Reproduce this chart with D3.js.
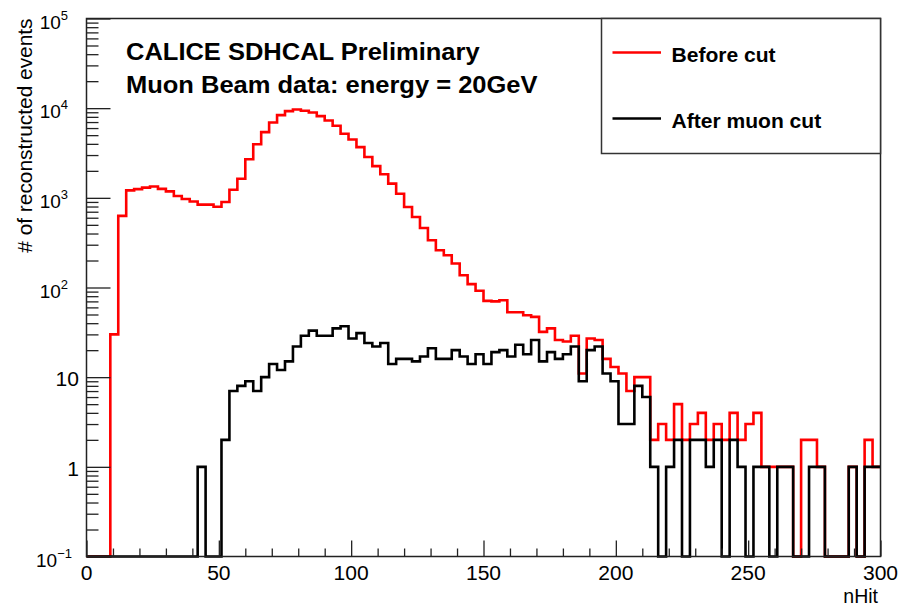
<!DOCTYPE html>
<html>
<head>
<meta charset="utf-8">
<script src="https://cdn.jsdelivr.net/npm/d3@7"></script>
<style>
  body { margin: 0; background: #fff; }
  svg { display: block; font-family: "Liberation Sans", Arial, Helvetica, sans-serif; }
</style>
</head>
<body>
<svg></svg>
<script>
(function () {
  var width = 915;
  var height = 606;

  // histogram layout: 100 bins of width 3, nHit from 0 to 300
  var binWidth = 3;
  var xRange = [0, 300];
  var yRange = [0.1, 1e5];
  var xTicksMajor = [0, 50, 100, 150, 200, 250, 300];
  var xTicksMinor = [10, 20, 30, 40, 60, 70, 80, 90, 110, 120, 130, 140, 160, 170, 180, 190,
                     210, 220, 230, 240, 260, 270, 280, 290];
  var yDecades = [-1, 0, 1, 2, 3, 4, 5];

  // bin contents
  var beforeCut = [
    0, 0, 0, 30, 630, 1210, 1250, 1300, 1340, 1260,
    1180, 1050, 970, 910, 840, 840, 795, 900, 1230, 1630,
    2690, 3960, 5400, 6930, 8360, 9260, 9660, 9350, 8960, 8150,
    7290, 6370, 5190, 4480, 3680, 2850, 2260, 1830, 1440, 1110,
    790, 611, 461, 336, 260, 229, 185, 137, 109, 92,
    71, 70, 72, 53, 53, 49, 47, 32, 35, 26,
    25, 29, 11, 27, 26, 16, 13, 11, 7, 10,
    10, 2, 3, 2, 5, 2, 3, 4, 2, 3,
    2, 4, 2, 3, 4, 1, 1, 1, 1, 0,
    2, 2, 1, 0, 0, 0, 1, 0, 2, 1
  ];
  var afterCut = [
    0, 0, 0, 0, 0, 0, 0, 0, 0, 0,
    0, 0, 0, 0, 1, 0, 0, 2, 7, 8,
    9, 7, 10, 14, 12, 15, 22, 29, 33, 29,
    29, 35, 37, 27, 31, 24, 22, 24, 14, 16,
    16, 15, 17, 21, 16, 16, 20, 17, 14, 18,
    14, 19, 20, 17, 23, 18, 26, 15, 19, 16,
    18, 22, 9, 20, 22, 11, 9, 3, 3, 8,
    6, 1, 0, 1, 2, 0, 2, 2, 1, 2,
    0, 2, 1, 0, 1, 1, 0, 1, 1, 0,
    0, 1, 1, 0, 0, 0, 1, 0, 1, 1
  ];

  var seriesNames = ["Before cut", "After muon cut"];
  var seriesColors = ["#ff0000", "#000000"];
  var titleLines = ["CALICE SDHCAL Preliminary", "Muon Beam data: energy = 20GeV"];

  var svg = d3.select('svg')
        .attr("width", width)
        .attr("height", height);
  var margin = {top: 18.5, left: 86.5};
  var plot_width = 794;
  var plot_height = 538;
  var g = svg.append('g').attr('transform', 'translate(' + margin.left + ',' + margin.top + ')');

  var x = d3.scaleLinear().domain(xRange).range([0, plot_width]);
  var y = d3.scaleLog().domain(yRange).range([plot_height, 0]);

  // text helper, ROOT fonts look a bit wider than Liberation at the same height
  function label(parent, px, py, str, size, weight, sx, anchor) {
    return parent.append("text")
      .attr("transform", "translate(" + px + "," + py + ") scale(" + sx + ",1)")
      .attr("font-size", size)
      .attr("font-weight", weight)
      .attr("text-anchor", anchor)
      .attr("fill", "#000")
      .text(str);
  }

  // step line for a histogram, empty bins go to the bottom of the frame
  var line = d3.line()
        .x(function(d) { return x(d[0]); })
        .y(function(d) { return y(d[1] > 0 ? Math.max(d[1], yRange[0]) : yRange[0]); })
        .curve(d3.curveStepAfter);

  function steps(values) {
    var pts = values.map(function(v, i) { return [i * binWidth, v]; });
    pts.push([xRange[1], values[values.length - 1]]);
    return pts;
  }

  [beforeCut, afterCut].forEach(function(values, k) {
    g.append("path")
      .attr("d", line(steps(values)))
      .attr("fill", "none")
      .attr("stroke", seriesColors[k])
      .attr("stroke-width", 2.6)
      .attr("stroke-linejoin", "miter");
  });

  // y axis: decades and minor ticks inside the frame
  var minor = [];
  yDecades.slice(0, -1).forEach(function(e) {
    for (var m = 2; m <= 9; m++) minor.push(m * Math.pow(10, e));
  });
  var axisStyle = function(sel) {
    sel.selectAll("line").attr("stroke", "#222").attr("stroke-width", 1.3);
    sel.select(".domain").remove();
  };
  g.append("g")
    .call(d3.axisLeft(y).tickValues(minor).tickSizeInner(-12).tickSizeOuter(0).tickFormat(""))
    .call(axisStyle);
  g.append("g")
    .call(d3.axisLeft(y).tickValues(yDecades.map(function(e) { return Math.pow(10, e); }))
          .tickSizeInner(-24).tickSizeOuter(0).tickFormat(""))
    .call(axisStyle);

  // x axis
  g.append("g")
    .attr("transform", "translate(0," + plot_height + ")")
    .call(d3.axisBottom(x).tickValues(xTicksMinor).tickSizeInner(-8).tickSizeOuter(0).tickFormat(""))
    .call(axisStyle);
  g.append("g")
    .attr("transform", "translate(0," + plot_height + ")")
    .call(d3.axisBottom(x).tickValues(xTicksMajor).tickSizeInner(-16).tickSizeOuter(0).tickFormat(""))
    .call(axisStyle);

  // frame
  g.append("rect")
    .attr("width", plot_width)
    .attr("height", plot_height)
    .attr("fill", "none")
    .attr("stroke", "#222")
    .attr("stroke-width", 1.5);

  // tick labels
  xTicksMajor.forEach(function(v) {
    label(svg, margin.left + x(v), 579.5, String(v), 19.5, "normal", 1.08, "middle");
  });
  yDecades.forEach(function(e) {
    var ty = margin.top + y(Math.pow(10, e));
    if (e === 0 || e === 1) {
      label(svg, 79, ty + 9, e === 0 ? "1" : "10", 19.5, "normal", 1.08, "end");
    } else {
      var t = svg.append("text")
        .attr("x", e < 0 ? 72 : 68)
        .attr("y", ty + 10)
        .attr("font-size", 19)
        .attr("text-anchor", "end")
        .attr("fill", "#000");
      t.append("tspan").text("10");
      t.append("tspan").attr("dy", -9).attr("font-size", 13)
        .text(e < 0 ? "\u2212" + (-e) : String(e));
    }
  });

  // axis titles
  label(svg, 878, 603, "nHit", 19.5, "normal", 1.0, "end");
  svg.append("text")
    .attr("transform", "translate(32," + margin.top + ") rotate(-90) scale(1.07,1)")
    .attr("font-size", 19.5)
    .attr("text-anchor", "end")
    .attr("fill", "#000")
    .text("# of reconstructed events");

  // headline
  label(svg, 126, 60, titleLines[0], 24, "bold", 1.0625, "start");
  label(svg, 126, 93, titleLines[1], 24, "bold", 1.0625, "start");

  // legend
  var leg = svg.append("g");
  leg.append("rect")
    .attr("x", 601.5).attr("y", 18.5)
    .attr("width", 279).attr("height", 135)
    .attr("fill", "#fff")
    .attr("stroke", "#333")
    .attr("stroke-width", 1.5);
  var legY = [52.5, 118.5];
  seriesNames.forEach(function(name, k) {
    leg.append("line")
      .attr("x1", 612.5).attr("x2", 661)
      .attr("y1", legY[k]).attr("y2", legY[k])
      .attr("stroke", seriesColors[k])
      .attr("stroke-width", 2.6);
    label(leg, 671.5, legY[k] + 9, name, 19.5, "bold", 1.08, "start");
  });
})();
</script>
</body>
</html>
